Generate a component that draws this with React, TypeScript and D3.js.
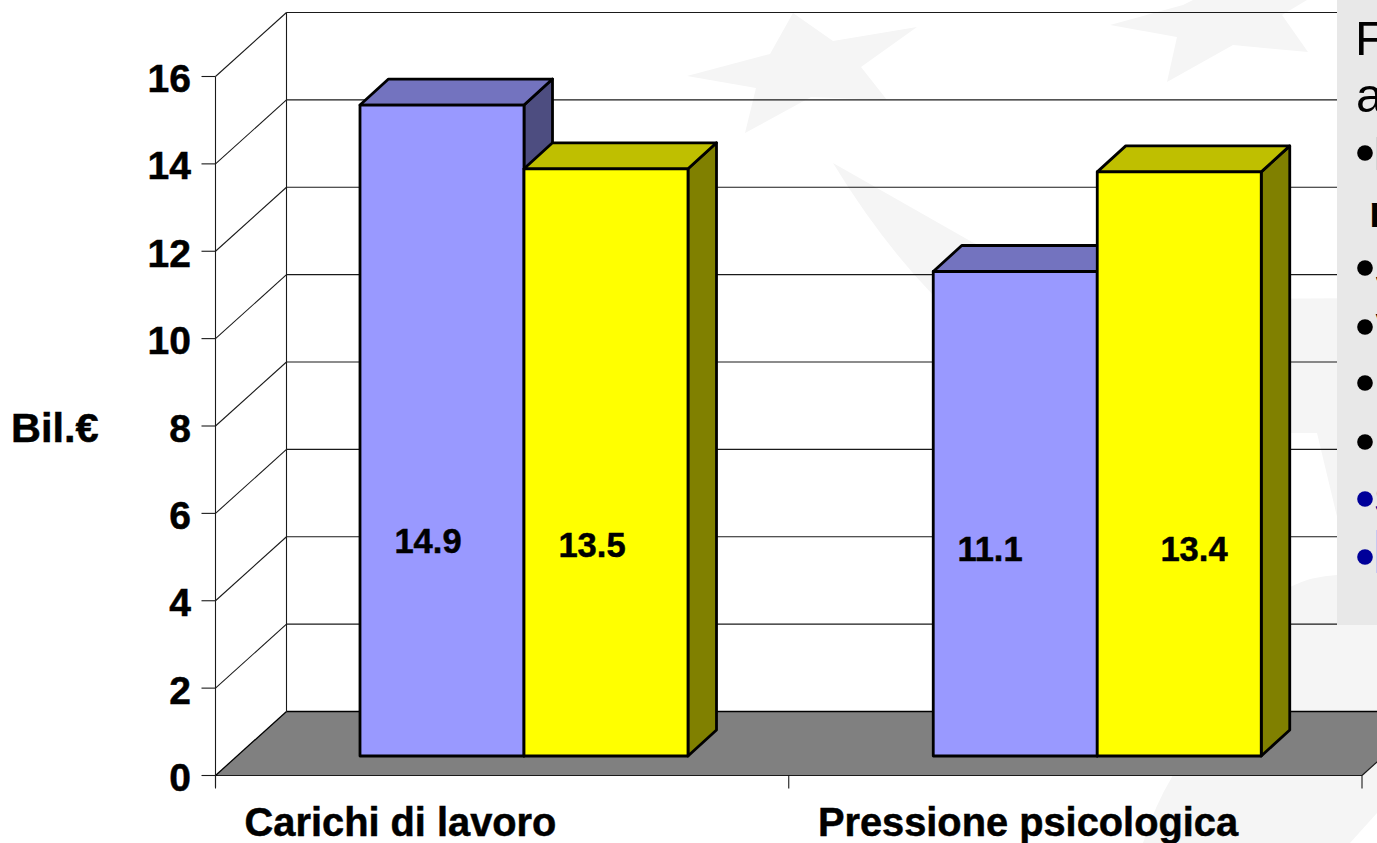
import React from "react";
import * as d3 from "d3";

const categories = ["Carichi di lavoro", "Pressione psicologica"];
const seriesA = [14.9, 11.09];
const seriesB = [13.44, 13.37];
const labelsA = ["14.9", "11.1"];
const labelsB = ["13.5", "13.4"];
const yTicks = [0, 2, 4, 6, 8, 10, 12, 14, 16];
const yTitle = "Bil.€";

const W = 1377, H = 843;
const FONT = "'Liberation Sans', Arial, sans-serif";
const wallDx = 71, wallDy = 64;
const barGapDy = 19.5, barOffset = 144.5, barW = 164, barDx = 28.5, barDy = 26;
const BG = "#f5f5f5";

const y = d3.scaleLinear().domain([0, 16]).range([775.5, 76.5]);
const x = d3.scaleBand<string>().domain(categories).range([215.5, 1362]).paddingInner(0).paddingOuter(0);

const stars = [
  "M793,13 L833,41 L917,27 L861,67 L887,100 L811,97 L745,133 L756,88 L687,76 L770,54 Z",
  "M1110,25 L1183,5 L1193,0 L1307,0 L1282,15 L1308,52 L1233,45 L1167,82 L1177,37 Z",
  "M833,163 L972,242 L1100,300 L1377,298 L1377,560 L1345,550 L1317,433 L1217,433 L933,295 Q880,240 833,163 Z",
  "M1143,843 Q1155,805 1172,777 L1200,640 L1290,587 Q1312,576 1337,575 L1377,575 L1377,813 L1350,843 Z",
];

const seriesStyle = [
  { front: "#9999ff", top: "#7373bf", side: "#4d4d80" },
  { front: "#ffff00", top: "#bfbf00", side: "#808000" },
];

const labelPlacement = [
  [{ cx: 428, by: 553 }, { cx: 592, by: 557 }],
  [{ cx: 990, by: 561 }, { cx: 1194, by: 561 }],
];
const catCenters = [400.5, 1028];

const bullets = [
  { cy: 153, c: "#000000" }, { cy: 268, c: "#000000" }, { cy: 327, c: "#000000" },
  { cy: 383, c: "#000000" }, { cy: 442, c: "#000000" }, { cy: 499, c: "#000099" }, { cy: 557, c: "#000099" },
];
const panelLines = [
  { t: "F", x: 1355, y: 55, s: 49, w: 400, c: "#000000" },
  { t: "a", x: 1356, y: 112, s: 49, w: 400, c: "#000000" },
  { t: "r", x: 1369, y: 227, s: 44, w: 700, c: "#000000" },
  { t: "J", x: 1375.5, y: 285, s: 40, w: 700, c: "#000000" },
  { t: "V", x: 1375.5, y: 342, s: 40, w: 700, c: "#000000" },
  { t: "S", x: 1374.5, y: 514, s: 40, w: 700, c: "#000099" },
];

const bold = { fontWeight: 700, fill: "#000", stroke: "#000", strokeWidth: 0.5 };

function Bar({ x0, value, s }: { x0: number; value: number; s: typeof seriesStyle[0] }) {
  const yb = y(0) - barGapDy;
  const yt = y(value) - barGapDy;
  const x1 = x0 + barW;
  const pts = (a: number[][]) => a.map((p) => p.join(",")).join(" ");
  const st = { stroke: "#000", strokeWidth: 2.8, strokeLinejoin: "round" as const };
  return (
    <g>
      <polygon points={pts([[x1, yt], [x1 + barDx, yt - barDy], [x1 + barDx, yb - barDy], [x1, yb]])} fill={s.side} {...st} />
      <polygon points={pts([[x0, yt], [x0 + barDx, yt - barDy], [x1 + barDx, yt - barDy], [x1, yt]])} fill={s.top} {...st} />
      <rect x={x0} y={yt} width={barW} height={yb - yt} fill={s.front} {...st} />
    </g>
  );
}

export default function App() {
  const x0 = x.range()[0], x1 = x.range()[1];
  const backX = x0 + wallDx;
  const ink = "#1a1a1a";
  return (
    <svg width={W} height={H} viewBox={`0 0 ${W} ${H}`} style={{ position: "fixed", left: 0, top: 0, background: "#fff", fontFamily: FONT }}>
      {stars.map((d, i) => <path key={i} d={d} fill={BG} />)}

      {/* floor */}
      <polygon
        points={`${x0},${y(0)} ${x1},${y(0)} ${x1 + wallDx},${y(0) - wallDy} ${backX},${y(0) - wallDy}`}
        fill="#808080"
      />
      <line x1={backX} x2={W} y1={y(0) - wallDy} y2={y(0) - wallDy} stroke="#000" strokeWidth={1.6} />
      <line x1={x0} x2={x1} y1={y(0)} y2={y(0)} stroke={ink} strokeWidth={1.2} />
      <line x1={x0} x2={backX} y1={y(0)} y2={y(0) - wallDy} stroke="#000" strokeWidth={1.3} />
      <line x1={x1} x2={x1 + wallDx} y1={y(0)} y2={y(0) - wallDy} stroke={ink} strokeWidth={1.2} />

      {/* walls */}
      {yTicks.map((t) => (
        <g key={t}>
          {t > 0 && <line x1={backX} x2={W} y1={y(t) - wallDy} y2={y(t) - wallDy} stroke={ink} strokeWidth={1.1} />}
          {t > 0 && <line x1={x0} x2={backX} y1={y(t)} y2={y(t) - wallDy} stroke={ink} strokeWidth={1.1} />}
          <line x1={x0 - 14} x2={x0} y1={y(t)} y2={y(t)} stroke={ink} strokeWidth={1.1} />
          <text x={191} y={y(t) + 15.5} textAnchor="end" fontSize={39} {...bold}>{t}</text>
        </g>
      ))}
      <line x1={x0} x2={x0} y1={y(16)} y2={y(0) + 12} stroke={ink} strokeWidth={1.1} />
      <line x1={backX} x2={backX} y1={y(16) - wallDy} y2={y(0) - wallDy} stroke={ink} strokeWidth={1.1} />
      {[x0, x1, (x0 + x1) / 2].map((v) => (
        <line key={v} x1={v} x2={v} y1={y(0)} y2={y(0) + 13} stroke={ink} strokeWidth={1.1} />
      ))}

      {/* bars */}
      {categories.map((c, i) => {
        const start = (x(c) as number) + barOffset;
        return (
          <g key={c}>
            <Bar x0={start} value={seriesA[i]} s={seriesStyle[0]} />
            <Bar x0={start + barW} value={seriesB[i]} s={seriesStyle[1]} />
            <text x={labelPlacement[i][0].cx} y={labelPlacement[i][0].by} textAnchor="middle" fontSize={34.5} {...bold}>{labelsA[i]}</text>
            <text x={labelPlacement[i][1].cx} y={labelPlacement[i][1].by} textAnchor="middle" fontSize={34.5} {...bold}>{labelsB[i]}</text>
            <text x={catCenters[i]} y={836} textAnchor="middle" fontSize={39.8} {...bold}>{c}</text>
          </g>
        );
      })}

      <text x={11} y={441.5} fontSize={41.5} {...bold}>{yTitle}</text>

      {/* side panel */}
      <rect x={1337} y={0} width={40} height={625} fill="#e8e8e8" />
      <rect x={1376} y={137} width={1} height={33} fill="#d4d4d4" />
      <rect x={1376} y={530} width={1} height={43} fill="#c8c8ee" />
      {bullets.map((b) => <circle key={b.cy} cx={1365} cy={b.cy} r={7.8} fill={b.c} />)}
      {panelLines.map((l) => (
        <text key={l.t} x={l.x} y={l.y} fontSize={l.s} fontWeight={l.w} fill={l.c}>{l.t}</text>
      ))}
    </svg>
  );
}
